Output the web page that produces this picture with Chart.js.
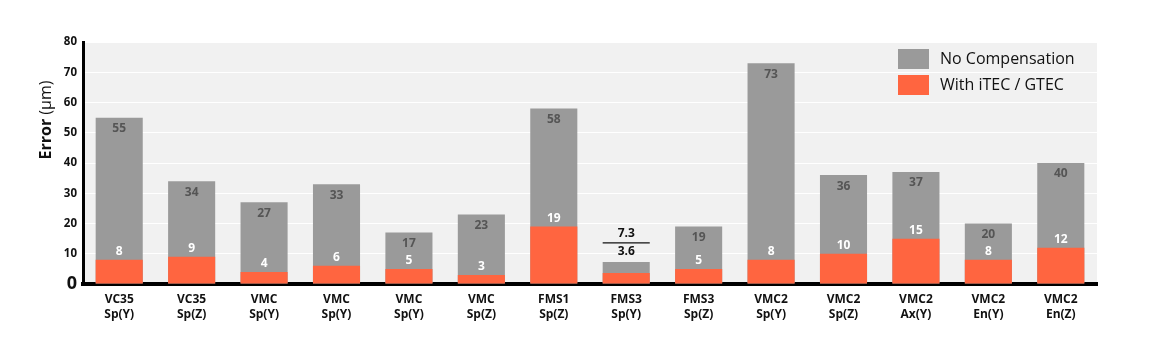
<!DOCTYPE html>
<html>
<head>
<meta charset="utf-8">
<script src="https://cdn.jsdelivr.net/npm/chart.js@4.4.1/dist/chart.umd.min.js"></script>
<style>
  html, body { margin: 0; padding: 0; background: #ffffff; }
  #wrap { width: 1170px; height: 351px; }
</style>
</head>
<body>
<div id="wrap"><canvas id="c" width="1170" height="351"></canvas></div>
<script>
const categories = [
  ["VC35", "Sp(Y)"], ["VC35", "Sp(Z)"], ["VMC", "Sp(Y)"], ["VMC", "Sp(Y)"],
  ["VMC", "Sp(Y)"], ["VMC", "Sp(Z)"], ["FMS1", "Sp(Z)"], ["FMS3", "Sp(Y)"],
  ["FMS3", "Sp(Z)"], ["VMC2", "Sp(Y)"], ["VMC2", "Sp(Z)"], ["VMC2", "Ax(Y)"],
  ["VMC2", "En(Y)"], ["VMC2", "En(Z)"]
];
const noCompensation = [55, 34, 27, 33, 17, 23, 58, 7.3, 19, 73, 36, 37, 20, 40];
const withCompensation = [8, 9, 4, 6, 5, 3, 19, 3.6, 5, 8, 10, 15, 8, 12];
const seriesNames = ["No Compensation", "With iTEC / GTEC"];
const yTicks = [0, 10, 20, 30, 40, 50, 60, 70, 80];

const GRAY = "#9a9a9a";
const ORANGE = "#ff6540";
const FONT = "'Open Sans', 'DejaVu Sans', sans-serif";

const bgPlugin = {
  id: "bg",
  beforeDraw(chart) {
    const { ctx, chartArea: a } = chart;
    ctx.save();
    ctx.fillStyle = "#f1f1f1";
    ctx.fillRect(a.left, a.top, a.right - a.left, a.bottom - a.top);
    ctx.restore();
  }
};

const labelPlugin = {
  id: "labels",
  afterDatasetsDraw(chart) {
    const { ctx } = chart;
    const grayMeta = chart.getDatasetMeta(1);
    const orMeta = chart.getDatasetMeta(0);
    ctx.save();
    ctx.font = "bold 12px " + FONT;
    ctx.textAlign = "center";
    ctx.textBaseline = "middle";
    grayMeta.data.forEach((bar, i) => {
      const ob = orMeta.data[i];
      const h = bar.base - bar.y;
      if (h < 30) {
        const w = bar.width;
        const lineY = bar.y - 19;
        ctx.fillStyle = "#111";
        ctx.fillText(String(noCompensation[i]), bar.x, lineY - 9);
        ctx.fillText(String(withCompensation[i]), bar.x, lineY + 9);
        ctx.strokeStyle = "#111";
        ctx.lineWidth = 1.2;
        ctx.beginPath();
        ctx.moveTo(bar.x - w / 2, lineY);
        ctx.lineTo(bar.x + w / 2, lineY);
        ctx.stroke();
      } else {
        ctx.fillStyle = "#555555";
        ctx.fillText(String(noCompensation[i]), bar.x, bar.y + 11);
        ctx.fillStyle = "#ffffff";
        ctx.fillText(String(withCompensation[i]), ob.x, ob.y - 8);
      }
    });
    ctx.restore();
  }
};

const legendPlugin = {
  id: "customLegend",
  afterDraw(chart) {
    const { ctx, chartArea: a } = chart;
    const ds = [chart.data.datasets[1], chart.data.datasets[0]];
    ctx.save();
    ctx.font = "16px " + FONT;
    ctx.textAlign = "left";
    ctx.textBaseline = "middle";
    ds.forEach((d, k) => {
      const x = a.right - 199;
      const y = a.top + 7 + k * 26;
      ctx.fillStyle = d.backgroundColor;
      ctx.fillRect(x, y, 31, 20);
      ctx.fillStyle = "#111";
      ctx.fillText(d.label, x + 42, y + 10);
    });
    ctx.restore();
  }
};

const yTitlePlugin = {
  id: "yTitle",
  afterDraw(chart) {
    const { ctx, chartArea: a } = chart;
    ctx.save();
    ctx.translate(46, a.top + 78);
    ctx.rotate(-Math.PI / 2);
    ctx.textBaseline = "middle";
    ctx.fillStyle = "#111";
    const p1 = "Error ", p2 = "(μm)";
    ctx.font = "bold 16px " + FONT;
    const w1 = ctx.measureText(p1).width;
    ctx.font = "16px " + FONT;
    const w2 = ctx.measureText(p2).width;
    const x0 = -(w1 + w2) / 2;
    ctx.font = "bold 16px " + FONT;
    ctx.textAlign = "left";
    ctx.fillText(p1, x0, 0);
    ctx.font = "16px " + FONT;
    ctx.fillText(p2, x0 + w1, 0);
    ctx.restore();
  }
};

new Chart(document.getElementById("c"), {
  type: "bar",
  data: {
    labels: categories,
    datasets: [
      {
        label: seriesNames[1],
        data: withCompensation,
        backgroundColor: ORANGE,
        grouped: false,
        order: 1,
        barPercentage: 0.65,
        categoryPercentage: 1
      },
      {
        label: seriesNames[0],
        data: noCompensation,
        backgroundColor: GRAY,
        grouped: false,
        order: 2,
        barPercentage: 0.65,
        categoryPercentage: 1
      }
    ]
  },
  options: {
    responsive: false,
    animation: false,
    devicePixelRatio: 1,
    layout: { padding: { left: 0, right: 73, top: 42, bottom: 0 } },
    plugins: { legend: { display: false }, tooltip: { enabled: false } },
    scales: {
      x: {
        grid: { display: false, drawTicks: false },
        border: { display: true, color: "#000", width: 4 },
        ticks: {
          color: "#111",
          font: { family: FONT, size: 12, weight: "bold", lineHeight: 1.25 },
          padding: 8,
          maxRotation: 0,
          autoSkip: false
        },
        afterFit(s) { s.height = 67; }
      },
      y: {
        min: 0,
        max: 80,
        afterBuildTicks(s) { s.ticks = yTicks.map(v => ({ value: v })); },
        grid: { color: "#ffffff", lineWidth: 1, drawTicks: false },
        border: { display: true, color: "#000", width: 3 },
        ticks: {
          color: "#111",
          padding: 6,
          font: (c) => (c.tick && c.tick.value === 0)
            ? { family: FONT, size: 18, weight: "bold" }
            : { family: FONT, size: 11.5, weight: "bold" }
        },
        afterFit(s) { s.width = 83; }
      }
    }
  },
  plugins: [bgPlugin, labelPlugin, legendPlugin, yTitlePlugin]
});
</script>
</body>
</html>
